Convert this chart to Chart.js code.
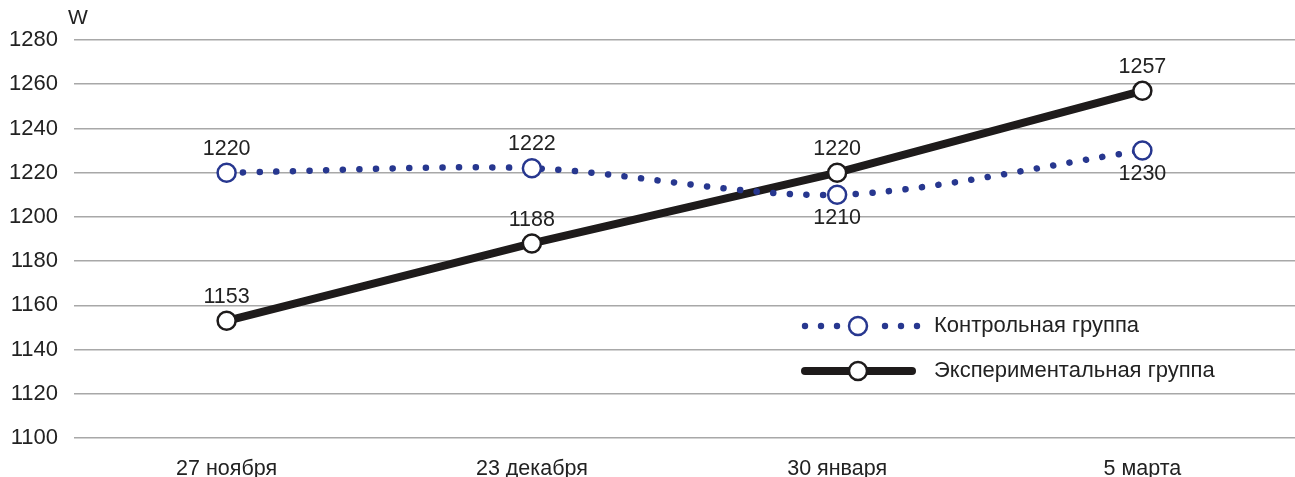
<!DOCTYPE html>
<html lang="ru">
<head>
<meta charset="UTF-8" />
<title>Контрольная и экспериментальная группы</title>
<script src="https://cdn.jsdelivr.net/npm/chart.js"></script>
<style>
    html, body { margin: 0; padding: 0; background: #fff; overflow: hidden; }
    #wrap { width: 1295px; height: 477px; position: relative; }
</style>
</head>
<body>
<div id="wrap"><canvas id="chart"></canvas></div>
<script>
    const dates = ['27 ноября', '23 декабря', '30 января', '5 марта'];
    const controlValues = [1220, 1222, 1210, 1230];
    const experimentalValues = [1153, 1188, 1220, 1257];
    const controlLabelPos = ['above', 'above', 'below', 'below'];
    const experimentalLabelPos = ['above', 'above', 'above', 'above'];
    const seriesNames = ['Контрольная группа', 'Экспериментальная группа'];
    const yUnit = 'W';

    const BLUE = '#27378f';
    const BLACK = '#1e1b1b';
    const FONT = '"Liberation Sans", Arial, sans-serif';

    // point labels + legend + unit
    const annotate = {
        id: 'annotate',
        afterDatasetsDraw(chart) {
            const ctx = chart.ctx;
            ctx.save();
            ctx.font = '21.5px ' + FONT;
            ctx.fillStyle = '#222';
            ctx.textAlign = 'center';
            const positions = [controlLabelPos, experimentalLabelPos];
            chart.data.datasets.forEach((ds, i) => {
                chart.getDatasetMeta(i).data.forEach((pt, j) => {
                    const above = positions[i][j] === 'above';
                    ctx.textBaseline = above ? 'bottom' : 'top';
                    ctx.fillText(String(ds.data[j]), pt.x, above ? pt.y - 13 : pt.y + 13);
                });
            });

            // unit
            ctx.textAlign = 'left';
            ctx.textBaseline = 'middle';
            ctx.font = '21px ' + FONT;
            ctx.fillText(yUnit, 68, 18);

            // legend
            const lx0 = 805, lx1 = 910, cx = 858, tx = 934;
            const rows = [326, 371];
            // dotted row
            ctx.fillStyle = BLUE;
            [lx0, lx0 + 16, lx0 + 32, cx + 27, cx + 43, cx + 59].forEach(x => {
                ctx.beginPath();
                ctx.arc(x, rows[0], 3.2, 0, Math.PI * 2);
                ctx.fill();
            });
            ctx.beginPath();
            ctx.arc(cx, rows[0], 9, 0, Math.PI * 2);
            ctx.fillStyle = '#fff';
            ctx.fill();
            ctx.lineWidth = 2.5;
            ctx.strokeStyle = BLUE;
            ctx.stroke();
            // solid row
            ctx.beginPath();
            ctx.moveTo(lx0, rows[1]);
            ctx.lineTo(lx1 + 2, rows[1]);
            ctx.lineWidth = 8;
            ctx.lineCap = 'round';
            ctx.strokeStyle = BLACK;
            ctx.stroke();
            ctx.beginPath();
            ctx.arc(cx, rows[1], 9, 0, Math.PI * 2);
            ctx.fillStyle = '#fff';
            ctx.fill();
            ctx.lineWidth = 2.5;
            ctx.stroke();

            ctx.fillStyle = '#222';
            ctx.font = '22px ' + FONT;
            ctx.fillText(seriesNames[0], tx, rows[0]);
            ctx.fillText(seriesNames[1], tx, rows[1]);
            ctx.restore();
        }
    };

    new Chart(document.getElementById('chart'), {
        type: 'line',
        data: {
            labels: dates,
            datasets: [
                {
                    label: seriesNames[0],
                    data: controlValues,
                    borderColor: BLUE,
                    borderWidth: 6.5,
                    borderDash: [0.1, 16.5],
                    borderCapStyle: 'round',
                    tension: 0.3,
                    pointRadius: 9,
                    pointBorderWidth: 2.5,
                    pointBorderColor: BLUE,
                    pointBackgroundColor: '#fff'
                },
                {
                    label: seriesNames[1],
                    data: experimentalValues,
                    borderColor: BLACK,
                    borderWidth: 8,
                    tension: 0,
                    pointRadius: 9,
                    pointBorderWidth: 2.5,
                    pointBorderColor: BLACK,
                    pointBackgroundColor: '#fff'
                }
            ]
        },
        options: {
            responsive: true,
            maintainAspectRatio: false,
            animation: false,
            layout: { autoPadding: false, padding: { top: 40, right: 0, left: 0, bottom: 0 } },
            plugins: {
                legend: { display: false },
                tooltip: { enabled: false }
            },
            scales: {
                x: {
                    offset: true,
                    grid: { display: false },
                    border: { display: false },
                    ticks: { color: '#222', font: { size: 21.5, family: FONT }, padding: 10 },
                    afterFit(scale) { scale.height = 39; }
                },
                y: {
                    min: 1100,
                    max: 1280,
                    ticks: {
                        stepSize: 20, color: '#222', font: { size: 22, family: FONT }, padding: 16,
                        callback: v => String(v)
                    },
                    grid: { color: '#a8a8a8', lineWidth: 1.5, drawTicks: false },
                    border: { display: false },
                    afterFit(scale) { scale.width = 74; }
                }
            }
        },
        plugins: [annotate]
    });
</script>
</body>
</html>
